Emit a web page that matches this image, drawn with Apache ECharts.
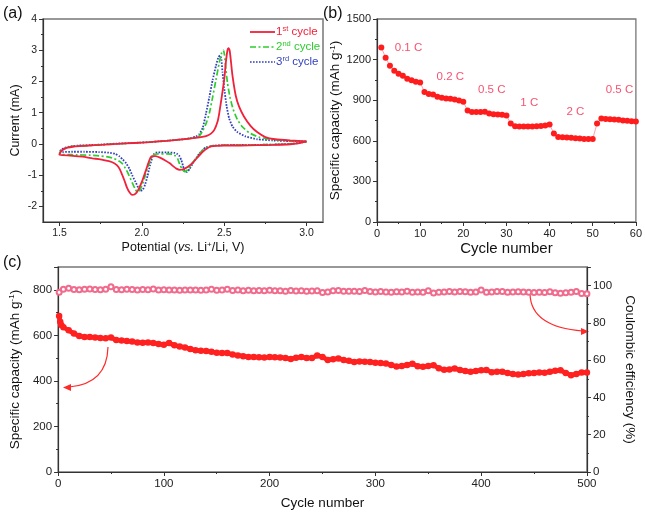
<!DOCTYPE html>
<html><head><meta charset="utf-8">
<script src="https://cdn.jsdelivr.net/npm/echarts@6/dist/echarts.min.js"></script>
<style>html,body{margin:0;padding:0;background:#fff}#c{width:645px;height:514px}</style>
</head><body><div id="c"></div>
<script>
const FONT = "'Liberation Sans', Arial, Helvetica, sans-serif";

// ---------- (a) cyclic voltammetry: [potential V, current mA] ----------
const cvCycle1 = [[3.00,0.07],[2.95,0.02],[2.90,-0.01],[2.80,-0.03],[2.70,-0.04],[2.60,-0.05],[2.50,-0.05],[2.45,-0.06],[2.42,-0.08],[2.40,-0.13],[2.37,-0.25],[2.34,-0.42],[2.31,-0.60],[2.28,-0.73],[2.25,-0.81],[2.23,-0.83],[2.21,-0.79],[2.19,-0.71],[2.17,-0.62],[2.14,-0.52],[2.11,-0.44],[2.085,-0.39],[2.065,-0.39],[2.055,-0.42],[2.045,-0.53],[2.035,-0.68],[2.02,-0.92],[2.005,-1.15],[1.985,-1.40],[1.97,-1.55],[1.955,-1.62],[1.94,-1.63],[1.925,-1.55],[1.91,-1.40],[1.895,-1.18],[1.88,-0.98],[1.865,-0.80],[1.85,-0.69],[1.83,-0.61],[1.80,-0.55],[1.77,-0.52],[1.74,-0.49],[1.70,-0.46],[1.64,-0.41],[1.58,-0.38],[1.52,-0.36],[1.50,-0.35],
  [1.505,-0.28],[1.515,-0.21],[1.53,-0.16],[1.55,-0.12],[1.58,-0.09],[1.62,-0.07],[1.68,-0.05],[1.75,-0.03],[1.85,0.0],[1.95,0.03],[2.05,0.06],[2.15,0.10],[2.25,0.15],[2.30,0.18],[2.35,0.21],[2.39,0.25],[2.42,0.33],[2.44,0.45],[2.46,0.72],[2.47,0.98],[2.485,1.5],[2.50,2.05],[2.51,2.6],[2.52,3.0],[2.526,3.07],[2.533,3.0],[2.54,2.7],[2.55,2.2],[2.57,1.55],[2.59,1.2],[2.62,0.88],[2.66,0.58],[2.70,0.38],[2.75,0.22],[2.81,0.15],[2.90,0.11],[3.00,0.08]];
const cvCycle2 = [[3.00,0.07],[2.95,0.03],[2.90,0.0],[2.80,-0.02],[2.70,-0.03],[2.60,-0.04],[2.50,-0.04],[2.45,-0.05],[2.42,-0.07],[2.39,-0.12],[2.36,-0.25],[2.33,-0.45],[2.30,-0.66],[2.28,-0.82],[2.26,-0.89],[2.245,-0.82],[2.23,-0.65],[2.217,-0.47],[2.20,-0.37],[2.187,-0.33],[2.15,-0.32],[2.10,-0.32],[2.076,-0.33],[2.066,-0.38],[2.056,-0.47],[2.04,-0.70],[2.025,-0.94],[2.01,-1.20],[1.995,-1.40],[1.985,-1.50],[1.972,-1.54],[1.96,-1.45],[1.945,-1.28],[1.93,-1.10],[1.915,-0.93],[1.90,-0.78],[1.885,-0.65],[1.865,-0.56],[1.845,-0.50],[1.82,-0.45],[1.80,-0.42],[1.74,-0.38],[1.68,-0.36],[1.60,-0.35],[1.55,-0.34],[1.50,-0.33],
  [1.505,-0.26],[1.515,-0.20],[1.53,-0.15],[1.55,-0.11],[1.58,-0.08],[1.62,-0.06],[1.68,-0.05],[1.75,-0.03],[1.85,0.0],[1.95,0.03],[2.05,0.06],[2.15,0.10],[2.25,0.15],[2.30,0.18],[2.33,0.21],[2.35,0.26],[2.37,0.42],[2.39,0.65],[2.41,0.98],[2.43,1.5],[2.45,2.05],[2.47,2.6],[2.485,2.92],[2.495,3.0],[2.502,2.85],[2.51,2.4],[2.52,1.95],[2.535,1.5],[2.555,1.1],[2.58,0.78],[2.61,0.55],[2.65,0.36],[2.71,0.22],[2.80,0.13],[2.90,0.10],[3.00,0.07]];
const cvCycle3 = [[3.00,0.08],[2.95,0.03],[2.90,0.0],[2.80,-0.02],[2.70,-0.03],[2.60,-0.03],[2.50,-0.04],[2.45,-0.05],[2.42,-0.07],[2.39,-0.11],[2.37,-0.19],[2.35,-0.31],[2.33,-0.45],[2.31,-0.62],[2.29,-0.80],[2.275,-0.90],[2.26,-0.86],[2.25,-0.70],[2.24,-0.52],[2.23,-0.40],[2.215,-0.32],[2.20,-0.29],[2.15,-0.27],[2.10,-0.27],[2.086,-0.28],[2.075,-0.32],[2.066,-0.40],[2.05,-0.68],[2.035,-1.02],[2.02,-1.30],[2.005,-1.47],[1.99,-1.50],[1.978,-1.40],[1.962,-1.22],[1.944,-1.03],[1.925,-0.80],[1.905,-0.62],[1.885,-0.50],[1.865,-0.40],[1.84,-0.32],[1.80,-0.28],[1.74,-0.26],[1.65,-0.25],[1.58,-0.25],[1.52,-0.26],[1.50,-0.28],
  [1.505,-0.22],[1.515,-0.17],[1.53,-0.13],[1.55,-0.10],[1.58,-0.07],[1.62,-0.05],[1.68,-0.04],[1.75,-0.02],[1.85,0.01],[1.95,0.03],[2.05,0.06],[2.15,0.10],[2.25,0.15],[2.30,0.19],[2.33,0.24],[2.35,0.32],[2.37,0.52],[2.39,0.98],[2.41,1.5],[2.43,2.05],[2.45,2.5],[2.465,2.78],[2.475,2.83],[2.483,2.7],[2.49,2.3],[2.50,1.8],[2.515,1.2],[2.53,0.82],[2.55,0.56],[2.58,0.38],[2.63,0.24],[2.70,0.15],[2.80,0.11],[2.90,0.09],[3.00,0.08]];
const cvXTicks = [1.5, 2.0, 2.5, 3.0];
const cvXMinor = [1.75, 2.25, 2.75];
const cvYTicks = [-2, -1, 0, 1, 2, 3, 4];
const cvYMinor = [-1.5, -0.5, 0.5, 1.5, 2.5, 3.5];
const cvNames = ['1', '2', '3'];
const cvSup = ['st', 'nd', 'rd'];

// ---------- (b) rate capability ----------
const rateCapacity = [1290,1214,1155,1118,1095,1080,1058,1048,1036,1031, 960,945,942,925,918,913,910,905,898,888, 824,812,812,812,814,802,797,794,792,787, 728,708,705,705,705,705,708,710,713,720, 654,629,627,624,622,619,617,614,614,614, 728,765,762,760,757,755,750,748,745,742];
const rateText = ['0.1 C', '0.2 C', '0.5 C', '1 C', '2 C', '0.5 C'];
const rateTextX = [7.3, 17.0, 26.6, 35.3, 46.0, 56.2];
const rateTextY = [1286, 1074, 980, 881, 815, 975];

// ---------- (c) long cycling ----------
const capCycles = [1, 2, 3];
for (let c = 5; c <= 500; c += 5) capCycles.push(c);
const capValues = [685,660,645, 636,622,608,597,593,593,590,588,587,590, 580,577,575,573,568,567,568,566,562,559, 566,556,551,547,540,534,532,531,528,524, 522,522,516,512,508,505,505,504,503,505, 504,503,500,496,502,505,500,500,512,505, 492,495,498,492,488,483,485,484,483,480, 478,476,470,463,465,470,475,464,462,465, 469,455,449,450,454,448,443,440,443,447, 448,438,440,440,435,430,428,430,433,435, 437,436,440,445,447,435,425,430,437,437];
const ceCycles = [1];
for (let c = 5; c <= 500; c += 5) ceCycles.push(c);
const ceValues = [96.5,98.0,98.6,97.9,97.8,98.0,98.2,97.9,97.8,98.0, 99.4,97.9,97.8,98.0,97.9,97.7,97.9,97.8,98.2,97.6, 97.8,97.7,97.6,97.5,97.6,97.7,97.6,97.5,97.7,98.1, 97.5,97.6,98.0,97.4,97.6,97.3,97.5,97.3,97.4,97.2, 97.5,97.3,97.2,97.0,97.4,97.1,97.2,97.0,97.1,97.2, 96.3,96.6,97.2,97.4,97.0,97.0,97.0,96.8,97.4,96.8, 96.6,96.8,96.6,96.5,96.7,96.6,97.0,96.5,96.6,96.5, 97.2,96.0,96.5,96.6,96.9,96.6,96.9,96.7,96.5,96.6, 97.6,96.5,96.6,96.8,96.9,96.5,96.6,96.7,96.6,96.4, 96.3,96.4,96.3,96.7,96.2,95.9,96.2,96.4,96.9,95.8,95.6];

// ---------- styling ----------
const RED = '#f2203a', GREEN = '#2ecc2e', BLUE = '#2f3fbf';
const CV_COLORS = [RED, GREEN, BLUE];
const CV_DASH = [null, [6, 2.5, 2, 2.5], [1.6, 1.4]];
const axisLine = { show: true, onZero: false, lineStyle: { color: '#333', width: 1.2 } };
const tickStyle = { color: '#333', width: 1 };
function rich(size) {
  return {
    n: { fontSize: size, fontFamily: FONT, color: '#111' },
    i: { fontSize: size, fontFamily: FONT, fontStyle: 'italic', color: '#111' },
    s: { fontSize: Math.round(size * 0.62), fontFamily: FONT, color: '#111', verticalAlign: 'top', lineHeight: Math.round(size * 0.62) + 1 }
  };
}
function nameStyle(size) { return { fontSize: size, fontFamily: FONT, color: '#111', rich: rich(size) }; }
const lab = (size) => ({ fontSize: size, fontFamily: FONT, color: '#222' });

// legend of panel (a), drawn as graphic sample lines + rich text
const legendGraphics = [];
cvNames.forEach((n, k) => {
  const y = 32 + k * 15;
  legendGraphics.push({ type: 'line', shape: { x1: 250, y1: y, x2: 275, y2: y }, z: 10,
    style: { stroke: CV_COLORS[k], lineWidth: k === 0 ? 1.8 : 1.7, lineDash: CV_DASH[k] } });
  legendGraphics.push({ type: 'text', x: 276, y: y, z: 10,
    style: { text: '{n|' + n + '}{s|' + cvSup[k] + '}{n| cycle}', verticalAlign: 'middle', align: 'left',
      rich: { n: { fontSize: 11.5, fontFamily: FONT, fill: CV_COLORS[k], lineHeight: 15 },
              s: { fontSize: 7.5, fontFamily: FONT, fill: CV_COLORS[k], verticalAlign: 'top', lineHeight: 9 } } } });
});

const chart = echarts.init(document.getElementById('c'), null, { renderer: 'canvas' });
const option = {
  animation: false,
  textStyle: { fontFamily: FONT },
  grid: [
    { left: 43, top: 19, width: 280, height: 203, show: true, borderColor: '#777', borderWidth: 1.5 },
    { left: 377, top: 19, width: 259, height: 203, show: true, borderColor: '#777', borderWidth: 1.3 },
    { left: 56, top: 267, width: 536, height: 205, show: true, borderColor: '#777', borderWidth: 1.3 }
  ],
  xAxis: [
    { gridIndex: 0, type: 'value', min: 1.4, max: 3.1, axisLine,
      axisTick: { show: true, customValues: cvXTicks, length: 4, lineStyle: tickStyle },
      axisLabel: { customValues: cvXTicks, formatter: v => v.toFixed(1), margin: 6, ...lab(10.5) },
      splitLine: { show: false },
      name: '{n|Potential (}{i|vs.}{n| Li}{s|+}{n|/Li, V)}', nameLocation: 'middle', nameGap: 19, nameTextStyle: nameStyle(12.5) },
    { gridIndex: 0, type: 'value', min: 1.4, max: 3.1, position: 'bottom', axisLine: { show: false, onZero: false },
      axisTick: { show: true, customValues: cvXMinor, length: 2, lineStyle: tickStyle },
      axisLabel: { show: false }, splitLine: { show: false } },
    { gridIndex: 1, type: 'value', min: 0, max: 60, interval: 10, axisLine,
      axisTick: { length: 4, lineStyle: tickStyle }, minorTick: { show: true, splitNumber: 2, length: 2, lineStyle: tickStyle },
      axisLabel: { margin: 6, ...lab(11) }, splitLine: { show: false },
      name: 'Cycle number', nameLocation: 'middle', nameGap: 19, nameTextStyle: nameStyle(15) },
    { gridIndex: 2, type: 'value', min: 0, max: 500, interval: 100, axisLine,
      axisTick: { length: 4, lineStyle: tickStyle }, minorTick: { show: true, splitNumber: 2, length: 2, lineStyle: tickStyle },
      axisLabel: { margin: 6, ...lab(11.5) }, splitLine: { show: false },
      name: 'Cycle number', nameLocation: 'middle', nameGap: 24, nameTextStyle: nameStyle(13.5) }
  ],
  yAxis: [
    { gridIndex: 0, type: 'value', min: -2.5, max: 4, axisLine,
      axisTick: { show: true, customValues: cvYTicks, length: 4, lineStyle: tickStyle },
      axisLabel: { customValues: cvYTicks, margin: 6, ...lab(10.5) },
      splitLine: { show: false },
      name: 'Current (mA)', nameLocation: 'middle', nameGap: 21, nameTextStyle: nameStyle(12.5) },
    { gridIndex: 0, type: 'value', min: -2.5, max: 4, position: 'left', axisLine: { show: false, onZero: false },
      axisTick: { show: true, customValues: cvYMinor, length: 2, lineStyle: tickStyle },
      axisLabel: { show: false }, splitLine: { show: false } },
    { gridIndex: 1, type: 'value', min: 0, max: 1500, interval: 300, axisLine,
      axisTick: { length: 4, lineStyle: tickStyle }, minorTick: { show: true, splitNumber: 2, length: 2, lineStyle: tickStyle },
      axisLabel: { margin: 6, formatter: v => String(v), ...lab(11) }, splitLine: { show: false },
      name: '{n|Specific capacity (mAh g}{s|-1}{n|)}', nameLocation: 'middle', nameGap: 27, nameTextStyle: nameStyle(13.5) },
    { gridIndex: 2, type: 'value', min: 0, max: 900, interval: 200, axisLine,
      axisTick: { length: 4, lineStyle: tickStyle }, minorTick: { show: true, splitNumber: 2, length: 2, lineStyle: tickStyle },
      axisLabel: { margin: 6, showMaxLabel: false, formatter: v => String(v), ...lab(11.5) }, splitLine: { show: false },
      name: '{n|Specific capacity (mAh g}{s|-1}{n|)}', nameLocation: 'middle', nameGap: 27, nameTextStyle: nameStyle(13.5) },
    { gridIndex: 2, type: 'value', min: 0, max: 110, interval: 20, position: 'right', axisLine,
      axisTick: { length: 4, lineStyle: tickStyle }, minorTick: { show: true, splitNumber: 2, length: 2, lineStyle: tickStyle },
      axisLabel: { margin: 6, showMaxLabel: false, ...lab(11.5) }, splitLine: { show: false },
      name: 'Coulombic efficiency (%)', nameLocation: 'middle', nameGap: 25, nameRotate: -90, nameTextStyle: nameStyle(13.5) }
  ],
  series: [
    { name: '1', type: 'line', xAxisIndex: 0, yAxisIndex: 0, data: cvCycle1, symbol: 'none', smooth: 0.15, z: 5,
      lineStyle: { color: RED, width: 1.8 } },
    { name: '2', type: 'line', xAxisIndex: 0, yAxisIndex: 0, data: cvCycle2, symbol: 'none', smooth: 0.15, z: 4,
      lineStyle: { color: GREEN, width: 1.7, type: CV_DASH[1] } },
    { name: '3', type: 'line', xAxisIndex: 0, yAxisIndex: 0, data: cvCycle3, symbol: 'none', smooth: 0.15, z: 3,
      lineStyle: { color: BLUE, width: 1.8, type: CV_DASH[2] } },
    { type: 'line', xAxisIndex: 2, yAxisIndex: 2, data: rateCapacity.map((v, i) => [i + 1, v]),
      symbol: 'circle', symbolSize: 6, itemStyle: { color: '#ff1c1c' }, lineStyle: { color: '#ff9fb0', width: 1 } },
    { type: 'scatter', xAxisIndex: 2, yAxisIndex: 2, data: rateText.map((t, i) => [rateTextX[i], rateTextY[i], t]),
      symbolSize: 1, itemStyle: { color: 'rgba(0,0,0,0)' }, silent: true, z: 10,
      label: { show: true, position: 'inside', formatter: p => p.data[2], color: '#f5264a', fontSize: 11.5, fontFamily: FONT } },
    { type: 'line', xAxisIndex: 3, yAxisIndex: 4, data: ceValues.map((v, i) => [ceCycles[i], v]),
      symbol: 'emptyCircle', symbolSize: 5, itemStyle: { color: '#f06b8c', borderWidth: 1 },
      lineStyle: { color: '#f07a96', width: 2.5 } },
    { type: 'line', xAxisIndex: 3, yAxisIndex: 3, data: capValues.map((v, i) => [capCycles[i], v]),
      symbol: 'circle', symbolSize: 6.5, itemStyle: { color: '#ff2020' },
      lineStyle: { color: '#ff2020', width: 4.5 } }
  ],
  graphic: [
    { type: 'text', left: 3, top: 6, style: { text: '(a)', font: '16px ' + FONT, fill: '#111' } },
    { type: 'text', left: 323, top: 6, style: { text: '(b)', font: '16px ' + FONT, fill: '#111' } },
    { type: 'text', left: 3, top: 255, style: { text: '(c)', font: '16px ' + FONT, fill: '#111' } },
    { type: 'bezierCurve', shape: { x1: 108, y1: 347, x2: 69, y2: 387, cpx1: 107, cpy1: 384 },
      style: { stroke: '#ff2a2a', lineWidth: 1.2, fill: null } },
    { type: 'polygon', shape: { points: [[63, 387.5], [71, 384], [71, 391]] }, style: { fill: '#ff2a2a' } },
    { type: 'bezierCurve', shape: { x1: 530, y1: 294, x2: 583, y2: 331, cpx1: 531, cpy1: 327 },
      style: { stroke: '#ff2a2a', lineWidth: 1.2, fill: null } },
    { type: 'polygon', shape: { points: [[589, 331.5], [581, 328], [581, 335]] }, style: { fill: '#ff2a2a' } }
  ].concat(legendGraphics)
};
chart.setOption(option);
</script></body></html>
